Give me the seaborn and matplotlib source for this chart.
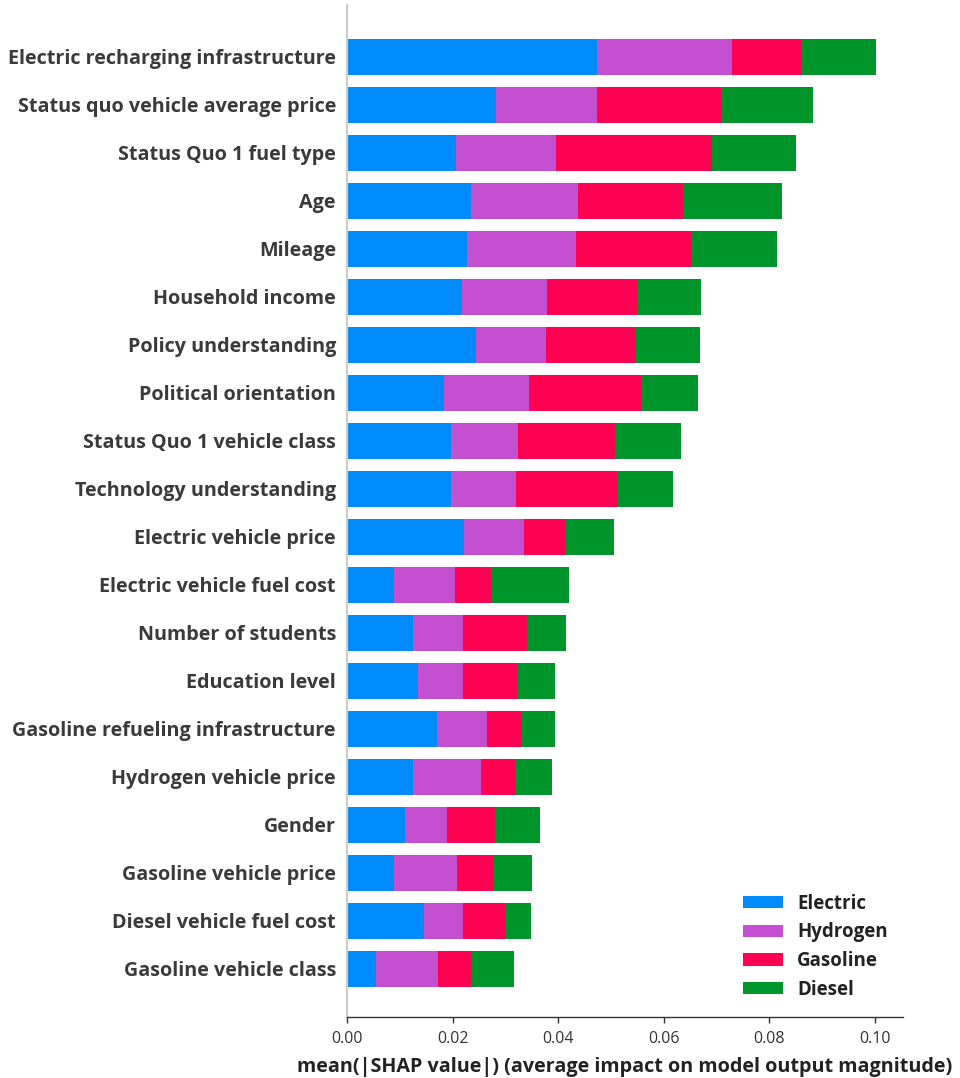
import matplotlib
matplotlib.use("Agg")
import matplotlib.pyplot as plt
from matplotlib.patches import Patch
import numpy as np
import seaborn as sns

features = [
    "Electric recharging infrastructure",
    "Status quo vehicle average price",
    "Status Quo 1 fuel type",
    "Age",
    "Mileage",
    "Household income",
    "Policy understanding",
    "Political orientation",
    "Status Quo 1 vehicle class",
    "Technology understanding",
    "Electric vehicle price",
    "Electric vehicle fuel cost",
    "Number of students",
    "Education level",
    "Gasoline refueling infrastructure",
    "Hydrogen vehicle price",
    "Gender",
    "Gasoline vehicle price",
    "Diesel vehicle fuel cost",
    "Gasoline vehicle class",
]

electric = [0.0473, 0.0283, 0.0207, 0.0235, 0.0228, 0.0217, 0.0245, 0.0183, 0.0196, 0.0196,
            0.0222, 0.0088, 0.0125, 0.0134, 0.0170, 0.0125, 0.0110, 0.0088, 0.0146, 0.0054]
hydrogen = [0.0256, 0.0190, 0.0189, 0.0203, 0.0205, 0.0161, 0.0131, 0.0161, 0.0127, 0.0124,
            0.0113, 0.0116, 0.0094, 0.0085, 0.0095, 0.0129, 0.0079, 0.0121, 0.0073, 0.0119]
gasoline = [0.0132, 0.0238, 0.0296, 0.0199, 0.0218, 0.0171, 0.0172, 0.0212, 0.0184, 0.0191,
            0.0077, 0.0068, 0.0122, 0.0102, 0.0067, 0.0064, 0.0092, 0.0068, 0.0080, 0.0062]
diesel = [0.0141, 0.0171, 0.0159, 0.0186, 0.0164, 0.0122, 0.0121, 0.0109, 0.0125, 0.0106,
          0.0094, 0.0148, 0.0074, 0.0073, 0.0062, 0.0070, 0.0085, 0.0073, 0.0049, 0.0082]

classes = ["Electric", "Hydrogen", "Gasoline", "Diesel"]
class_colors = ["#008bfb", "#c44fd1", "#ff0052", "#00952a"]
xticks = [0.00, 0.02, 0.04, 0.06, 0.08, 0.10]
xlabel = "mean(|SHAP value|) (average impact on model output magnitude)"

sns.set_theme(style="white")
plt.rcParams["font.family"] = ["Open Sans", "DejaVu Sans"]

fig = plt.figure(figsize=(9.6, 10.78), dpi=100)
ax = fig.add_axes([0.3615, 0.0566, 0.5792, 0.9388])

# Stack the classes: draw cumulative totals from the outermost layer inward
layers = np.array([electric, hydrogen, gasoline, diesel])
cum = np.cumsum(layers, axis=0)
for k in range(len(classes) - 1, -1, -1):
    sns.barplot(x=cum[k], y=features, order=features, color=class_colors[k],
                orient="h", width=0.75, saturation=1, ax=ax, linewidth=0)

ax.set_xlim(0, 0.1053)
ax.set_ylim(20, -1.08)
ax.set_xticks(xticks)
ax.set_xticklabels([f"{t:.2f}" for t in xticks], fontsize=11.5, color="#333333")
ax.set_ylabel("")
ax.set_xlabel(xlabel, fontsize=14.2, fontweight="bold", color="#222222", labelpad=7)
ax.tick_params(axis="y", length=0, pad=8)
ax.tick_params(axis="x", length=4, width=1, color="#333333", direction="out", bottom=True, pad=6)
for lab in ax.get_yticklabels():
    lab.set_fontsize(14.2)
    lab.set_fontweight("bold")
    lab.set_color("#3a3a3a")

for s in ["top", "right"]:
    ax.spines[s].set_visible(False)
ax.spines["left"].set_color("#cccccc")
ax.spines["left"].set_linewidth(1.6)
ax.spines["bottom"].set_color("#333333")
ax.spines["bottom"].set_linewidth(1.0)

handles = [Patch(facecolor=c, edgecolor="none") for c in class_colors]
leg = ax.legend(handles, classes, loc="lower right", bbox_to_anchor=(0.999, 0.002),
                frameon=False, fontsize=13.5, handlelength=2.1, handleheight=0.62,
                labelspacing=0.47, handletextpad=0.75, borderaxespad=0.4)
for t in leg.get_texts():
    t.set_fontweight("bold")
    t.set_color("#222222")

fig.savefig("out.png", dpi=100)
